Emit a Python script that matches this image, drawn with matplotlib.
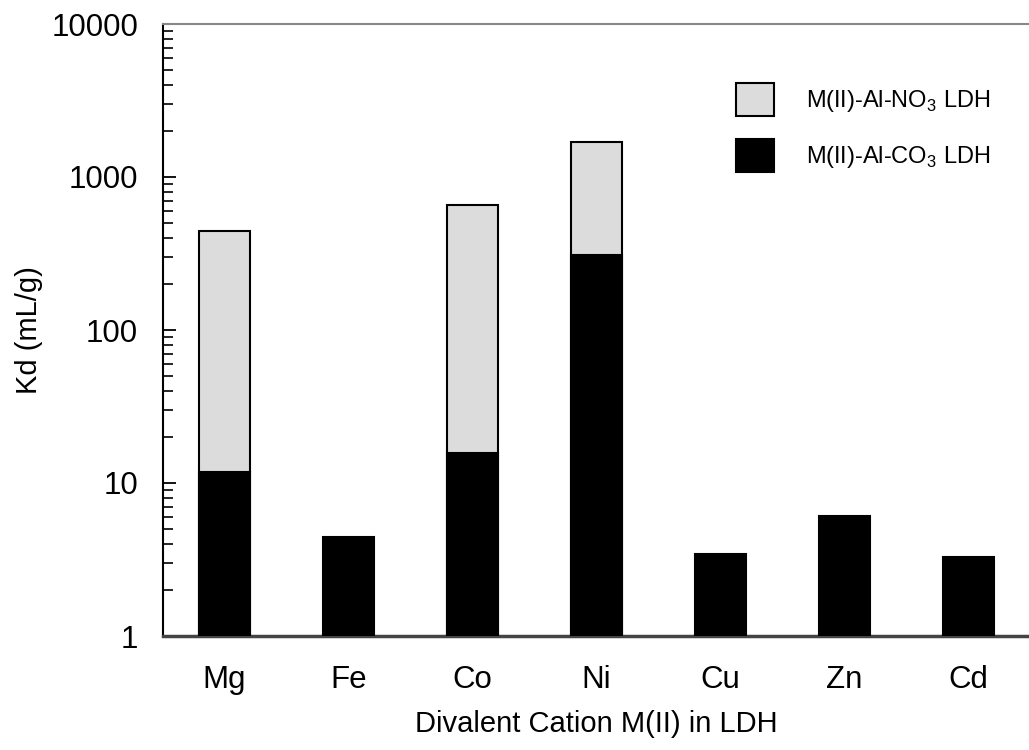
import matplotlib
matplotlib.use("Agg")
import matplotlib.pyplot as plt
import numpy as np
from matplotlib.patches import Patch
from matplotlib.ticker import LogLocator, NullFormatter, FixedLocator, FixedFormatter

plt.rcParams['font.family'] = ['Liberation Sans', 'DejaVu Sans']
plt.rcParams['mathtext.fontset'] = 'custom'
plt.rcParams['mathtext.rm'] = 'Liberation Sans'

categories = ["Mg", "Fe", "Co", "Ni", "Cu", "Zn", "Cd"]
kd_no3 = [444, None, 656, 1694, None, None, None]
kd_co3 = [11.8, 4.45, 15.7, 309, 3.45, 6.05, 3.28]
ytick_values = [1, 10, 100, 1000, 10000]
ytick_labels = ["1", "10", "100", "1000", "10000"]
legend_labels = ["M(II)-Al-NO$_3$ LDH", "M(II)-Al-CO$_3$ LDH"]

fig = plt.figure(figsize=(10.29, 7.5), dpi=100)
ax = fig.add_axes([163/1029, 114/750, 866/1029, 612/750])

x = np.arange(len(categories))
w = 0.415
gray = '#dcdcdc'

nx = [i for i, v in enumerate(kd_no3) if v is not None]
nv = [v for v in kd_no3 if v is not None]
ax.bar(nx, nv, width=w, bottom=1, color=gray, edgecolor='black', linewidth=1.5, zorder=2)
ax.bar(x, np.array(kd_co3) - 1, width=w, bottom=1, color='black', edgecolor='black', linewidth=1.5, zorder=3)

ax.set_yscale('log')
ax.set_ylim(1, 10000)
ax.set_xlim(-0.496, 6.488)

ax.yaxis.set_major_locator(FixedLocator(ytick_values))
ax.yaxis.set_major_formatter(FixedFormatter(ytick_labels))
ax.yaxis.set_minor_locator(LogLocator(base=10, subs=np.arange(2, 10)))
ax.yaxis.set_minor_formatter(NullFormatter())
ax.tick_params(axis='y', which='major', direction='in', length=9, width=1.3, labelsize=22.5, pad=18)
ax.tick_params(axis='y', which='minor', direction='in', length=7, width=1.2)
ax.set_xticks(x)
ax.set_xticklabels(categories)
ax.tick_params(axis='x', which='both', length=0, labelsize=22.5, pad=21)

ax.spines['right'].set_visible(False)
ax.spines['top'].set_color('#888888')
ax.spines['top'].set_linewidth(1.5)
ax.spines['bottom'].set_color('#444444')
ax.spines['bottom'].set_linewidth(2.5)
ax.spines['left'].set_color('black')
ax.spines['left'].set_linewidth(1.5)

ax.set_xlabel("Divalent Cation M(II) in LDH", fontsize=21, labelpad=11)
ax.set_ylabel("Kd (mL/g)", fontsize=21, labelpad=6)

handles = [Patch(facecolor=gray, edgecolor='black', linewidth=1.5),
           Patch(facecolor='black', edgecolor='black', linewidth=1.5)]
leg = ax.legend(handles, legend_labels, loc='upper left', bbox_to_anchor=(736/1029, 1 - 83/750),
                bbox_transform=fig.transFigure, frameon=False, fontsize=17,
                handlelength=1.6, handleheight=1.75, handletextpad=1.35, labelspacing=1.0,
                borderaxespad=0, borderpad=0)

fig.savefig("out.png", dpi=100)
